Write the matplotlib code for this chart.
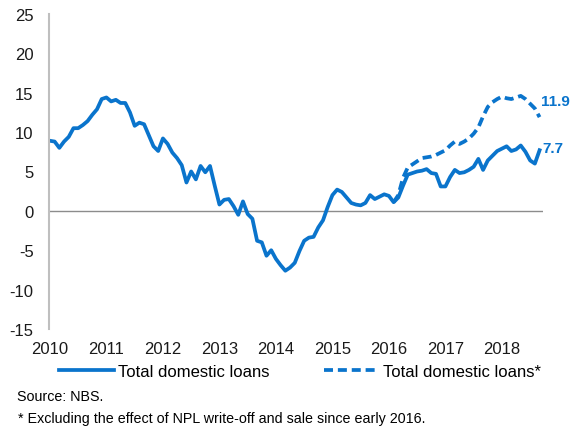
import numpy as np
import matplotlib
matplotlib.use("Agg")
import matplotlib.pyplot as plt

plt.rcParams['font.family'] = ['Liberation Sans', 'DejaVu Sans']
plt.rcParams['axes.unicode_minus'] = False

# monthly data, Jan 2010 - Sep 2018
loans = [8.9, 8.8, 8.0, 8.8, 9.4, 10.5, 10.5, 10.9, 11.4, 12.2, 12.9, 14.2,
         14.4, 13.9, 14.1, 13.7, 13.7, 12.5, 10.8, 11.2, 11.0, 9.6, 8.2, 7.6,
         9.2, 8.5, 7.4, 6.7, 5.8, 3.6, 5.0, 4.0, 5.7, 4.9, 5.7, 3.2,
         0.8, 1.4, 1.5, 0.6, -0.5, 1.2, -0.4, -1.0, -3.8, -4.0, -5.7, -5.0,
         -6.1, -6.9, -7.6, -7.2, -6.6, -5.1, -3.8, -3.4, -3.3, -2.1, -1.2, 0.5,
         2.0, 2.7, 2.4, 1.7, 1.0, 0.8, 0.7, 1.0, 2.0, 1.5, 1.8, 2.1,
         1.9, 1.1, 1.7, 3.2, 4.6, 4.8, 5.0, 5.1, 5.3, 4.8, 4.7, 3.1,
         3.1, 4.3, 5.2, 4.8, 4.9, 5.2, 5.6, 6.6, 5.2, 6.4, 7.0, 7.6,
         7.9, 8.2, 7.6, 7.8, 8.3, 7.5, 6.4, 6.0, 7.7]

# adjusted series, Feb 2016 - Sep 2018
loans_adj = [1.1, 2.0, 4.2, 5.5, 5.9, 6.3, 6.7, 6.8, 6.9, 7.1, 7.4,
             7.7, 8.3, 8.8, 8.5, 8.8, 9.2, 9.8, 10.6, 12.0, 13.2, 13.8, 14.2,
             14.5, 14.3, 14.2, 14.4, 14.6, 14.2, 13.6, 13.0, 11.9]

years = ['2010', '2011', '2012', '2013', '2014', '2015', '2016', '2017', '2018']

blue = '#0A74CC'

x = np.arange(len(loans))
x_adj = np.arange(len(loans) - len(loans_adj), len(loans))

fig = plt.figure(figsize=(5.79, 4.27), dpi=100)
ax = fig.add_axes([0.0846, 0.2272, 0.853, 0.7377])

ax.plot(x, loans, color=blue, lw=2.7, label='Total domestic loans', solid_joinstyle='round')
ax.plot(x_adj, loans_adj, color=blue, lw=2.7, ls=(0, (2.4, 1.3)), label='Total domestic loans*')
ax.axhline(0, color='#8C8C8C', lw=1, zorder=0)

ax.text(x[-1] + 0.5, loans[-1] + 0.3, '%.1f' % loans[-1], color=blue,
        fontsize=11, fontweight='bold', va='center', ha='left')
ax.text(x_adj[-1] + 0.2, loans_adj[-1] + 2.0, '%.1f' % loans_adj[-1], color=blue,
        fontsize=11, fontweight='bold', va='center', ha='left')

ax.set_xlim(-0.2, 104.7)
ax.set_ylim(-15, 25)
ax.set_yticks(range(-15, 26, 5))
ax.set_xticks(np.arange(len(years)) * 12)
ax.set_xticklabels(years)
ax.tick_params(axis='both', length=0, labelsize=12, colors='#1a1a1a')
ax.tick_params(axis='y', pad=11)
ax.tick_params(axis='x', pad=9)

for s in ['top', 'right', 'bottom']:
    ax.spines[s].set_visible(False)
ax.spines['left'].set_color('#BFBFBF')
ax.spines['left'].set_linewidth(1.5)

fig.legend(loc='center', bbox_to_anchor=(0.518, 0.127), ncol=2, frameon=False,
           fontsize=12, handlelength=3.3, handletextpad=0.25, columnspacing=3.3)

fig.text(0.029, 0.07, 'Source: NBS.', fontsize=10.3, va='center')
fig.text(0.031, 0.018, '* Excluding the effect of NPL write-off and sale since early 2016.',
         fontsize=10.3, va='center')

fig.savefig('out.png', dpi=100)
